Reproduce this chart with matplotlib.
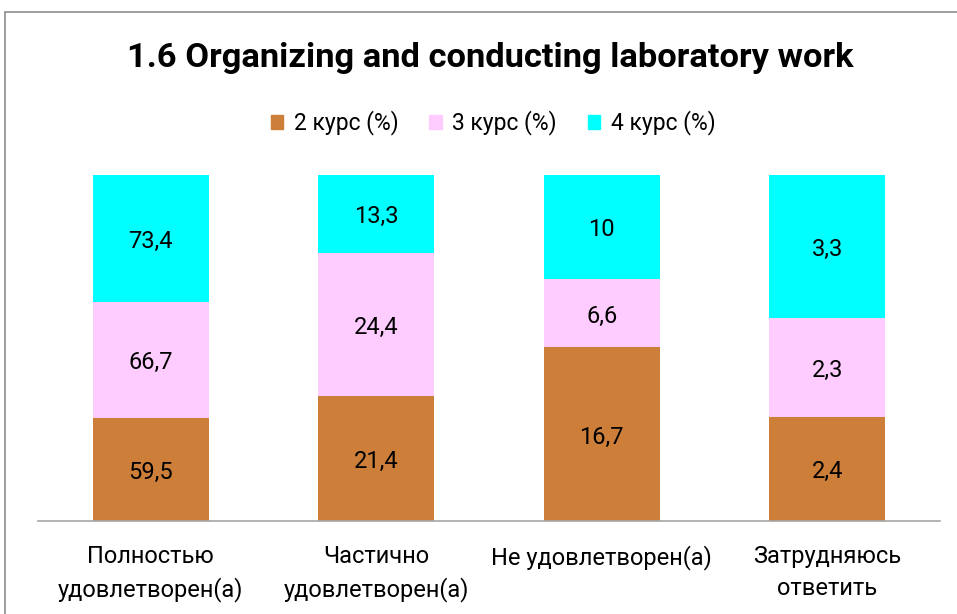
import matplotlib.pyplot as plt
import numpy as np
from matplotlib.patches import Rectangle, Patch

plt.rcParams['font.family'] = ['Roboto', 'DejaVu Sans']

categories = ['Полностью\nудовлетворен(а)', 'Частично\nудовлетворен(а)',
              'Не удовлетворен(а)', 'Затрудняюсь\nответить']
series_names = ['2 курс (%)', '3 курс (%)', '4 курс (%)']
kurs2 = [59.5, 21.4, 16.7, 2.4]
kurs3 = [66.7, 24.4, 6.6, 2.3]
kurs4 = [73.4, 13.3, 10, 3.3]
colors = ['#CD7F3A', '#FFCCFF', '#00FFFF']

data = np.array([kurs2, kurs3, kurs4])
totals = data.sum(axis=0)
shares = data / totals * 100

fig = plt.figure(figsize=(9.57, 6.14), dpi=100)
ax = fig.add_axes([38 / 957, 1 - 521 / 614, 902 / 957, 346 / 614])

x = np.arange(len(categories))
bottom = np.zeros(len(categories))
for i in range(len(series_names)):
    ax.bar(x, shares[i], 0.515, bottom=bottom, color=colors[i])
    for j in range(len(categories)):
        ax.annotate(f"{data[i][j]:g}".replace('.', ','),
                    (x[j], bottom[j] + shares[i][j] / 2), xytext=(0, -2),
                    textcoords='offset points', ha='center', va='center', fontsize=17)
    bottom = bottom + shares[i]

ax.set_xlim(-0.5, 3.5)
ax.set_ylim(0, 100)
ax.set_yticks([])
ax.set_xticks(x)
ax.set_xticklabels(categories, fontsize=17, linespacing=1.5)
ax.tick_params(axis='x', length=0, pad=17)
for s in ['top', 'left', 'right']:
    ax.spines[s].set_visible(False)
ax.spines['bottom'].set_color('#a6a6a6')
ax.spines['bottom'].set_linewidth(1.2)

fig.text(490 / 957, 1 - 58 / 614, '1.6 Organizing and conducting laboratory work',
         ha='center', va='center', fontsize=24.8, fontweight='bold')

handles = [Patch(color=c) for c in colors]
fig.legend(handles, series_names, loc='center', bbox_to_anchor=(493 / 957, 1 - 123 / 614),
           ncol=3, frameon=False, fontsize=16.5, handlelength=0.55, handleheight=0.55,
           handletextpad=0.45, columnspacing=1.35)

fig.patches.append(Rectangle((5 / 957, -0.1), 1.2, 1.1 - 12 / 614, transform=fig.transFigure,
                             fill=False, edgecolor='#8c8c8c', linewidth=1.2))

fig.savefig('out.png', dpi=100)
